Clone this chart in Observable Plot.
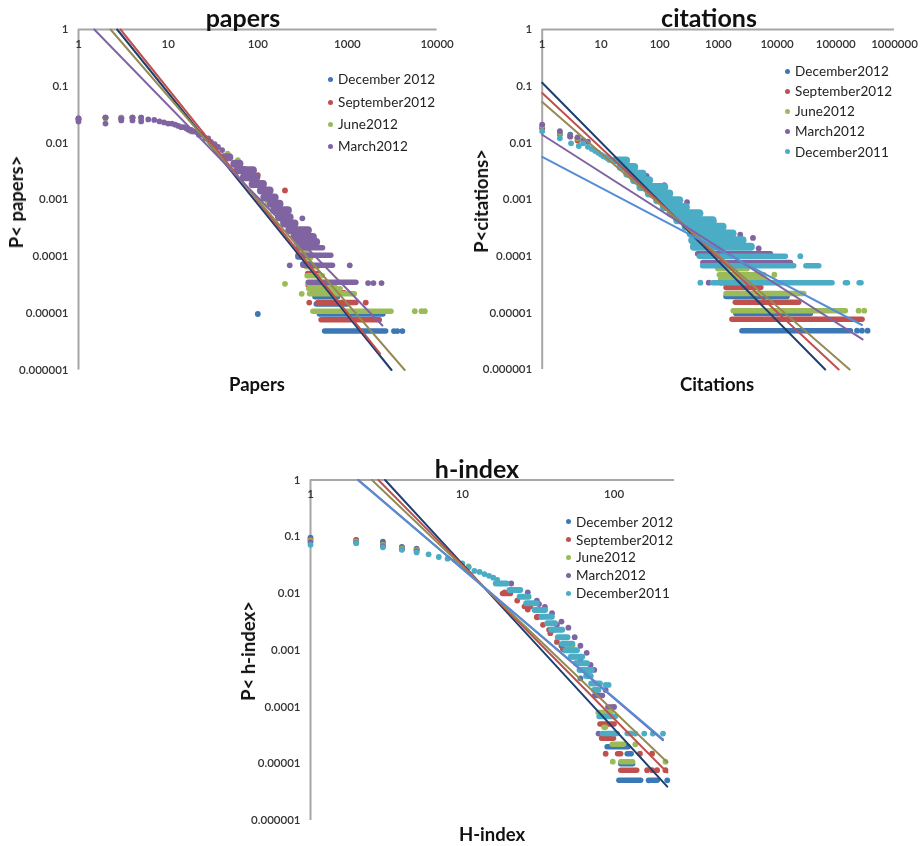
<!DOCTYPE html>
<html><head><meta charset="utf-8">
<script src="https://cdn.jsdelivr.net/npm/d3@7"></script>
<script src="https://cdn.jsdelivr.net/npm/@observablehq/plot@0.6"></script>
<style>
html,body{margin:0;padding:0;background:#fff}
#root{position:relative;width:921px;height:846px;overflow:hidden;font-family:Lato,"Open Sans",sans-serif}
.panel{position:absolute;filter:blur(.45px)}
.lab{position:absolute;white-space:nowrap;color:#111;font-weight:700;filter:blur(.3px)}
.title{font-size:25px;transform:translate(-50%,-50%)}
.xl{font-size:18.5px;transform:translate(-50%,-50%)}
.yl{font-size:18.5px;transform:translate(-50%,-50%) rotate(-90deg)}
.leg{position:absolute;white-space:nowrap;font-size:13.5px;color:#222;transform:translateY(-50%);letter-spacing:.1px;filter:blur(.3px)}
.leg i{position:absolute;left:-10.5px;top:50%;width:5px;height:5px;margin-top:-2.5px;border-radius:50%}
</style></head><body><div id="root"></div>
<script>
const colDec12="#3B78B5", colSep12="#C0504D", colJun12="#9BBB59", colMar12="#8064A2", colDec11="#4BACC6";
const fitDec12="#1F3F6E", fitSep12="#C0504D", fitJun12="#948A54", fitMar12="#8064A2", fitDec11="#558ED5";
const yTicks=[1,0.1,0.01,0.001,0.0001,0.00001,0.000001];
const yTickText=["1","0.1","0.01","0.001","0.0001","0.00001","0.000001"];
const legend4=["December 2012","September2012","June2012","March2012"];
const legend5a=["December2012","September2012","June2012","March2012","December2011"];
const legend5b=["December 2012","September2012","June2012","March2012","December2011"];

// ---------- papers: [x,p] dots, [p,x0,x1] dense runs, [x,p] fit ends
const papersDec12Dots=[[1,.026],[2,.028],[3,.027],[4,.028],[5,.028],[100,.0000097],[3300,.00000485],[3600,.00000485],[4100,.00000485]];
const papersDec12Runs=[[.00000485,525,2900],[.0000097,460,2700],[.0000145,424,1088],[.0000195,410,841],[.00003,400,700],[.000074,301,420],[.000098,265,387]];
const papersDec12Fit=[[2.7,1],[3100,.000001]];
const papersSep12Dots=[[1,.027],[2,.028],[3,.028],[4,.028],[201,.00146],[100,.0027],[87,.0018],[150,.0008],[375,.0000154],[1600,.0000154],[70,.0035]];
const papersSep12Runs=[[.0000077,480,2460],[.0000154,440,1350],[.000023,395,1000],[.000031,345,640],[.00005,340,520]];
const papersSep12Fit=[[2.94,1],[2313,.00000194]];
const papersJun12Dots=[[1,.027],[2,.027],[3,.028],[4,.028],[5,.027],[201,.000033],[309,.000022],[5640,.0000109],[6700,.0000109],[7300,.0000109],[80,.0033],[128,.00096],[46,.0065],[60,.005],[18,.016],[130,.0009]];
const papersJun12Runs=[[.0000109,389,3320],[.000022,357,1295],[.000027,350,900],[.000033,345,790],[.000046,335,570],[.000066,330,500],[.000094,320,420],[.00013,270,400]];
const papersJun12Fit=[[2.28,1],[4350,.000001]];
const papersMar12Dots=[[1,.024],[1,.027],[2,.022],[2,.028],[3,.025],[3,.027],[4,.025],[4,.028],[5,.024],[5,.028],[6,.026],[7,.0255],[8,.024],[9,.023],[10,.022],[11,.022],[12,.021],[13,.02],[14,.019],[15,.019],[16,.018],[17,.017],[18,.017],[19,.016],[20,.016],[22,.014],[24,.014],[26,.012],[28,.012],[30,.0105],[33,.0095],[36,.0085],[40,.0075],[314,.00047],[1061,.00007],[227,.00007],[1700,.000034],[1950,.000034],[2400,.000034]];
const papersMar12Runs=[[.000143,265,573],[.000105,265,709],[.00007,301,740],[.000035,345,1350]];
const papersMar12Blob=[[.0056,38,54],[.0043,50,70],[.0033,54,99],[.0025,64,108],[.0019,80,128],[.00146,99,152],[.0011,108,173],[.00085,128,196],[.00065,139,243],[.00049,158,254],[.00038,180,288],[.00029,205,406],[.00022,233,462],[.00018,254,502]];
const papersMar12Fit=[[1.5,1],[2455,.0000061]];

// ---------- citations
const citDec12Dots=[[1,.018],[2,.014],[3,.014],[4,.012],[230000,.00000485],[279000,.00000485],[348000,.00000485]];
const citDec12Runs=[[.00000485,2310,201000],[.0000097,1820,41900],[.0000195,1240,16800]];
const citDec12Fit=[[1,.115],[66000,.000001]];
const citSep12Dots=[[1,.019],[2,.015],[3,.013],[4,.011]];
const citSep12Runs=[[.0000077,1560,318000],[.0000154,1780,26500],[.000028,1240,6000]];
const citSep12Fit=[[1,.0755],[112000,.000001]];
const citJun12Dots=[[1,.02],[2,.015],[3,.013],[4,.012],[8990,.000047],[245000,.0000109],[305000,.0000109],[25,.005]];
const citJun12Runs=[[.0000109,1640,165000],[.000022,1240,32200],[.00004,1000,7000],[.000047,950,6740],[.00006,900,3500]];
const citJun12Fit=[[1,.0525],[172000,.000001]];
const citMar12Dots=[[1,.021],[2,.016],[3,.013],[4,.0125],[5,.011],[6,.0105],[293,.0009],[494,.00057],[830,.00041],[2360,.00024],[3890,.00021],[4860,.000137],[685,.000034],[60,.0026],[120,.0018]];
const citMar12Runs=[[.00011,406,8750],[.000077,500,19100],[.000034,1000,5190]];
const citMar12Fit=[[1,.0139],[286000,.0000034]];
const citDec11Dots=[[1,.016],[2,.012],[3.1,.0098],[4.2,.0088],[5,.0098],[6,.0085],[7,.0078],[8,.0072],[9,.0067],[10,.0062],[11,.0058],[12,.0056],[13,.0053],[14,.005],[494,.000034],[24900,.0001]];
const citDec11Runs=[[.0001,434,15700],[.000068,494,21800],[.000068,28400,58200],[.000034,732,98000],[.000034,145000,165000],[.000034,229000,305000]];
const citDec11Blob=[[.0049,15.6,32],[.00376,18.9,44],[.00286,24.5,61],[.00219,32,79],[.00167,41,143],[.00127,57,174],[.00097,79,257],[.00074,103,334],[.00057,134,564],[.00043,174,950],[.00033,241,1410],[.00025,293,2080],[.00019,313,3080],[.000147,334,4270]];
const citDec11Fit=[[1,.00564],[279000,.0000061]];

// ---------- h-index
const hDec12Dots=[[1,.096],[2,.088],[3,.082],[4,.066],[5,.062],[169,.0000051],[224,.0000051],[60,.00032],[45,.0012]];
const hDec12Runs=[[.0000051,104,157],[.0000051,169,202],[.00001,107,139],[.000015,118,136],[.00002,87,130]];
const hDec12Fit=[[3.1,1],[224,.00000396]];
const hSep12Dots=[[1,.09],[2,.086],[3,.075],[4,.064],[5,.06],[88,.000015],[148,.000015],[178,.000015],[165,.0000077],[178,.0000077],[192,.0000077],[218,.0000077],[19,.0105],[23,.0075],[27,.0052],[31,.0038],[34,.0028],[38,.002],[42,.0014],[46,.00105]];
const hSep12Runs=[[.0000077,107,148],[.000015,102,116],[.000028,80,104],[.00005,78,105],[.01,17.8,21.8],[.0059,24.8,29.5],[.0039,30,35],[.0023,36,43],[.001,46,54],[.00059,54,62]];
const hSep12Fit=[[2.8,1],[224,.000007]];
const hJun12Dots=[[1,.085],[2,.082],[3,.072],[4,.062],[5,.058],[11,.03],[98,.0000109],[218,.0000109],[138,.000022]];
const hJun12Runs=[[.0000109,107,139],[.000022,94,121],[.000044,83,92],[.00008,76,100],[.00077,52,58],[.0012,48,56]];
const hJun12Fit=[[2.54,1],[224,.0000106]];
const hMar12Dots=[[1,.08],[2,.079],[3,.068],[4,.06],[5,.056],[79,.000034],[74,.00045],[60,.0007],[70,.00055],[66,.0009],[32,.0065],[42,.0028],[88,.0002],[100,.0001],[21,.015],[27,.0105],[31,.0075],[35,.0058],[39,.0045],[45,.0032],[50,.0025],[55,.0017],[60,.0012]];
const hMar12Runs=[[.0001,88,102],[.00016,72,88]];
const hMar12Fit=[[2.07,1],[210,.000026]];
const hDec11Dots=[[1,.072],[2,.077],[3,.065],[4,.059],[5,.053],[6,.049],[7,.044],[8,.041],[9,.039],[10,.034],[11,.029],[12,.025],[13,.024],[14,.022],[15,.0205],[16,.019],[17,.0173],[92,.000245],[88,.000245],[99,.000034],[138,.000034],[158,.000034],[180,.000034],[210,.000034]];
const hDec11Runs=[[.000068,77,107],[.000034,81,110],[.000034,118,136]];
const hDec11Blob=[[.015,16,20.6],[.0115,19.7,25.4],[.0088,23,28.8],[.0067,25.4,32.7],[.0051,28.8,37],[.0039,32,41],[.003,35,43],[.0023,37,48],[.0017,41,52],[.0013,44,56],[.001,46,60],[.00077,50,65],[.00059,54,70],[.00045,57,75],[.00035,63,74],[.00026,68,85],[.0002,71,83]];
const hDec11Fit=[[2.05,1],[210,.000027]];

const root=document.getElementById("root");
function addLab(cls,text,x,y){const d=document.createElement("div");d.className="lab "+cls;d.textContent=text;d.style.left=x+"px";d.style.top=y+"px";root.append(d);}
function addLegend(names,cols,x,ys){names.forEach((n,i)=>{const d=document.createElement("div");d.className="leg";d.style.left=x+"px";d.style.top=ys[i]+"px";d.innerHTML='<i style="background:'+cols[i]+'"></i>'+n;root.append(d);});}

function panel(o){
  const marks=[];
  const bw=o.blobWidth;
  marks.push(Plot.ruleX([1],{stroke:"#a6a6a6",strokeWidth:2}));
  marks.push(Plot.ruleY([1],{stroke:"#a6a6a6",strokeWidth:2}));
  for(const s of o.series){
    if(s.blob) marks.push(Plot.ruleY(s.blob,{y:d=>d[0],x1:d=>d[1],x2:d=>d[2],stroke:s.col,strokeWidth:bw,strokeLinecap:"round",insetLeft:bw/2,insetRight:bw/2}));
    marks.push(Plot.ruleY(s.runs,{y:d=>d[0],x1:d=>d[1],x2:d=>d[2],stroke:s.col,strokeWidth:5.5,strokeLinecap:"round",insetLeft:2.7,insetRight:2.7}));
    marks.push(Plot.dot(s.dots,{x:d=>d[0],y:d=>d[1],r:2.9,fill:s.col}));
  }
  for(const s of o.series){
    marks.push(Plot.line(s.fit,{x:d=>d[0],y:d=>d[1],stroke:s.fitCol,strokeWidth:2}));
  }
  marks.push(Plot.text(yTicks,{y:d=>d,frameAnchor:"left",dx:-10,textAnchor:"end",text:(d,i)=>yTickText[i],fontSize:11.5,fill:"#333",fontWeight:600}));
  marks.push(Plot.text(o.xTicks,{x:d=>d,frameAnchor:"top",dy:10,text:d=>String(d),fontSize:11.5,fill:"#333",fontWeight:600}));
  const svg=Plot.plot({width:o.w,height:o.h,marginLeft:o.ml,marginRight:o.mr,marginTop:o.mt,marginBottom:o.mb,
    style:{fontFamily:"Lato, 'Open Sans', sans-serif",background:"transparent",overflow:"visible"},
    x:{type:"log",domain:o.xd,axis:null},y:{type:"log",domain:[.000001,1],axis:null},marks});
  svg.classList.add("panel");svg.style.left=o.l+"px";svg.style.top=o.t+"px";
  root.append(svg);
}

panel({l:0,t:0,w:460,h:400,ml:78,mr:23.4,mt:29,mb:30.5,blobWidth:8,xd:[1,10000],xTicks:[1,10,100,1000,10000],series:[
 {col:colDec12,fitCol:fitDec12,dots:papersDec12Dots,runs:papersDec12Runs,fit:papersDec12Fit},
 {col:colSep12,fitCol:fitSep12,dots:papersSep12Dots,runs:papersSep12Runs,fit:papersSep12Fit},
 {col:colJun12,fitCol:fitJun12,dots:papersJun12Dots,runs:papersJun12Runs,fit:papersJun12Fit},
 {col:colMar12,fitCol:fitMar12,dots:papersMar12Dots,runs:papersMar12Runs,blob:papersMar12Blob,fit:papersMar12Fit}]});
panel({l:460,t:0,w:461,h:400,ml:81.7,mr:27,mt:29,mb:31,blobWidth:8,xd:[1,1000000],xTicks:[1,10,100,1000,10000,100000,1000000],series:[
 {col:colDec12,fitCol:fitDec12,dots:citDec12Dots,runs:citDec12Runs,fit:citDec12Fit},
 {col:colSep12,fitCol:fitSep12,dots:citSep12Dots,runs:citSep12Runs,fit:citSep12Fit},
 {col:colJun12,fitCol:fitJun12,dots:citJun12Dots,runs:citJun12Runs,fit:citJun12Fit},
 {col:colMar12,fitCol:fitMar12,dots:citMar12Dots,runs:citMar12Runs,fit:citMar12Fit},
 {col:colDec11,fitCol:fitDec11,dots:citDec11Dots,runs:citDec11Runs,blob:citDec11Blob,fit:citDec11Fit}]});
panel({l:230,t:450,w:460,h:396,ml:80,mr:16,mt:29.5,mb:26,blobWidth:6,xd:[1,250],xTicks:[1,10,100],series:[
 {col:colDec12,fitCol:fitDec12,dots:hDec12Dots,runs:hDec12Runs,fit:hDec12Fit},
 {col:colSep12,fitCol:fitSep12,dots:hSep12Dots,runs:hSep12Runs,fit:hSep12Fit},
 {col:colJun12,fitCol:fitJun12,dots:hJun12Dots,runs:hJun12Runs,fit:hJun12Fit},
 {col:colMar12,fitCol:fitMar12,dots:hMar12Dots,runs:hMar12Runs,fit:hMar12Fit},
 {col:colDec11,fitCol:fitDec11,dots:hDec11Dots,runs:hDec11Runs,blob:hDec11Blob,fit:hDec11Fit}]});

addLab("title","papers",243,17);addLab("title","citations",709,17);addLab("title","h-index",477,468);
addLab("xl","Papers",257,384);addLab("xl","Citations",717,384);addLab("xl","H-index",492,834);
addLab("yl","P< papers>",16,202);addLab("yl","P<citations>",481,201);addLab("yl","P< h-index>",248,651);
addLegend(legend4,[colDec12,colSep12,colJun12,colMar12],338,[79,102,124,146]);
addLegend(legend5a,[colDec12,colSep12,colJun12,colMar12,colDec11],795,[71,91,111,131,151.5]);
addLegend(legend5b,[colDec12,colSep12,colJun12,colMar12,colDec11],576,[521.5,539.5,557,575,593]);
</script></body></html>
